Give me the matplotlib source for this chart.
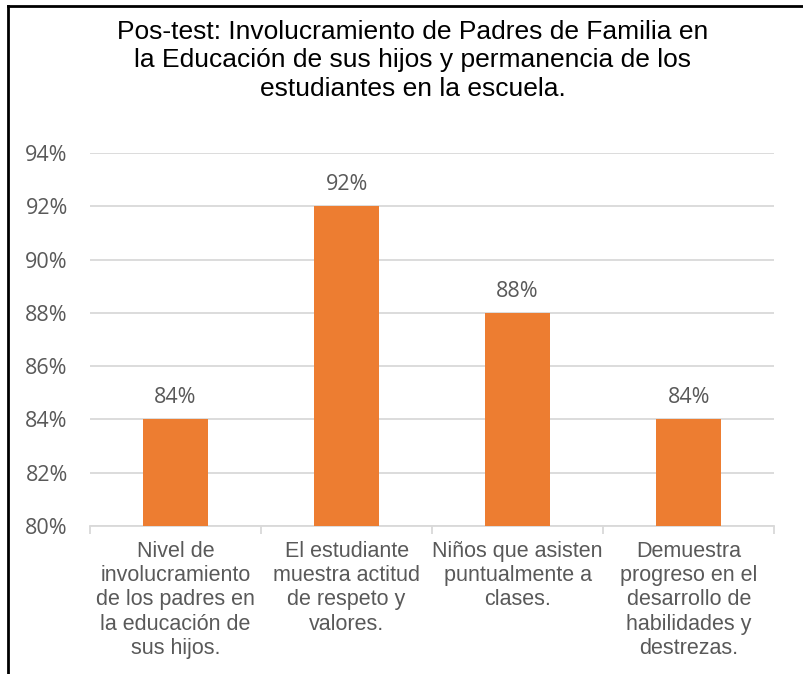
import numpy as np
import matplotlib.pyplot as plt
from matplotlib.lines import Line2D

titulo = ("Pos-test: Involucramiento de Padres de Familia en\n"
          "la Educación de sus hijos y permanencia de los\n"
          "estudiantes en la escuela.")
categorias = [
    "Nivel de\ninvolucramiento\nde los padres en\nla educación de\nsus hijos.",
    "El estudiante\nmuestra actitud\nde respeto y\nvalores.",
    "Niños que asisten\npuntualmente a\nclases.",
    "Demuestra\nprogreso en el\ndesarrollo de\nhabilidades y\ndestrezas.",
]
valores = [0.84, 0.92, 0.88, 0.84]
yticks = [0.80, 0.82, 0.84, 0.86, 0.88, 0.90, 0.92, 0.94]

naranja = '#ED7D31'
gris = '#595959'
rejilla = '#D9D9D9'

fig = plt.figure(figsize=(8.04, 6.74), dpi=100)
ax = fig.add_axes([0.112, 0.2196, 0.851, 0.5534])

x = np.arange(len(valores))
ax.bar(x, valores, width=0.38, color=naranja, zorder=3)
ax.set_xlim(-0.5, len(valores) - 0.5)
ax.set_ylim(0.80, 0.94)
ax.set_yticks(yticks)
ax.set_yticklabels([f'{round(v*100)}%' for v in yticks],
                   family='Open Sans', fontsize=15.5, color=gris)
ax.tick_params(axis='y', length=0, pad=16)
ax.grid(axis='y', color=rejilla, linewidth=1.3, zorder=0)

# etiquetas de categoria y marcas entre categorias
ax.set_xticks(np.arange(-0.5, len(valores)))
ax.set_xticklabels([])
ax.tick_params(axis='x', length=6, color=rejilla, width=1.3)
for i, c in enumerate(categorias):
    ax.text(i, -0.04, c, transform=ax.get_xaxis_transform(),
            ha='center', va='top', family='Liberation Sans',
            fontsize=15.5, color=gris, linespacing=1.2)

for s in ['top', 'right', 'left']:
    ax.spines[s].set_visible(False)
ax.spines['bottom'].set_color(rejilla)
ax.spines['bottom'].set_linewidth(1.3)

for i, v in enumerate(valores):
    ax.annotate(f'{round(v*100)}%', (i, v), xytext=(0, 8),
                textcoords='offset points', ha='center', va='bottom',
                family='Open Sans', fontsize=15.5, color=gris)

fig.text(0.513, 0.971, titulo, ha='center', va='top',
         family='Liberation Sans', fontsize=19, color='black',
         linespacing=1.26)

# borde del grafico
fig.add_artist(Line2D([0.01, 1.0], [0.991, 0.991], color='black', lw=2))
fig.add_artist(Line2D([0.01, 0.01], [0.0, 0.991], color='black', lw=2))

fig.savefig('out.png', dpi=100)
